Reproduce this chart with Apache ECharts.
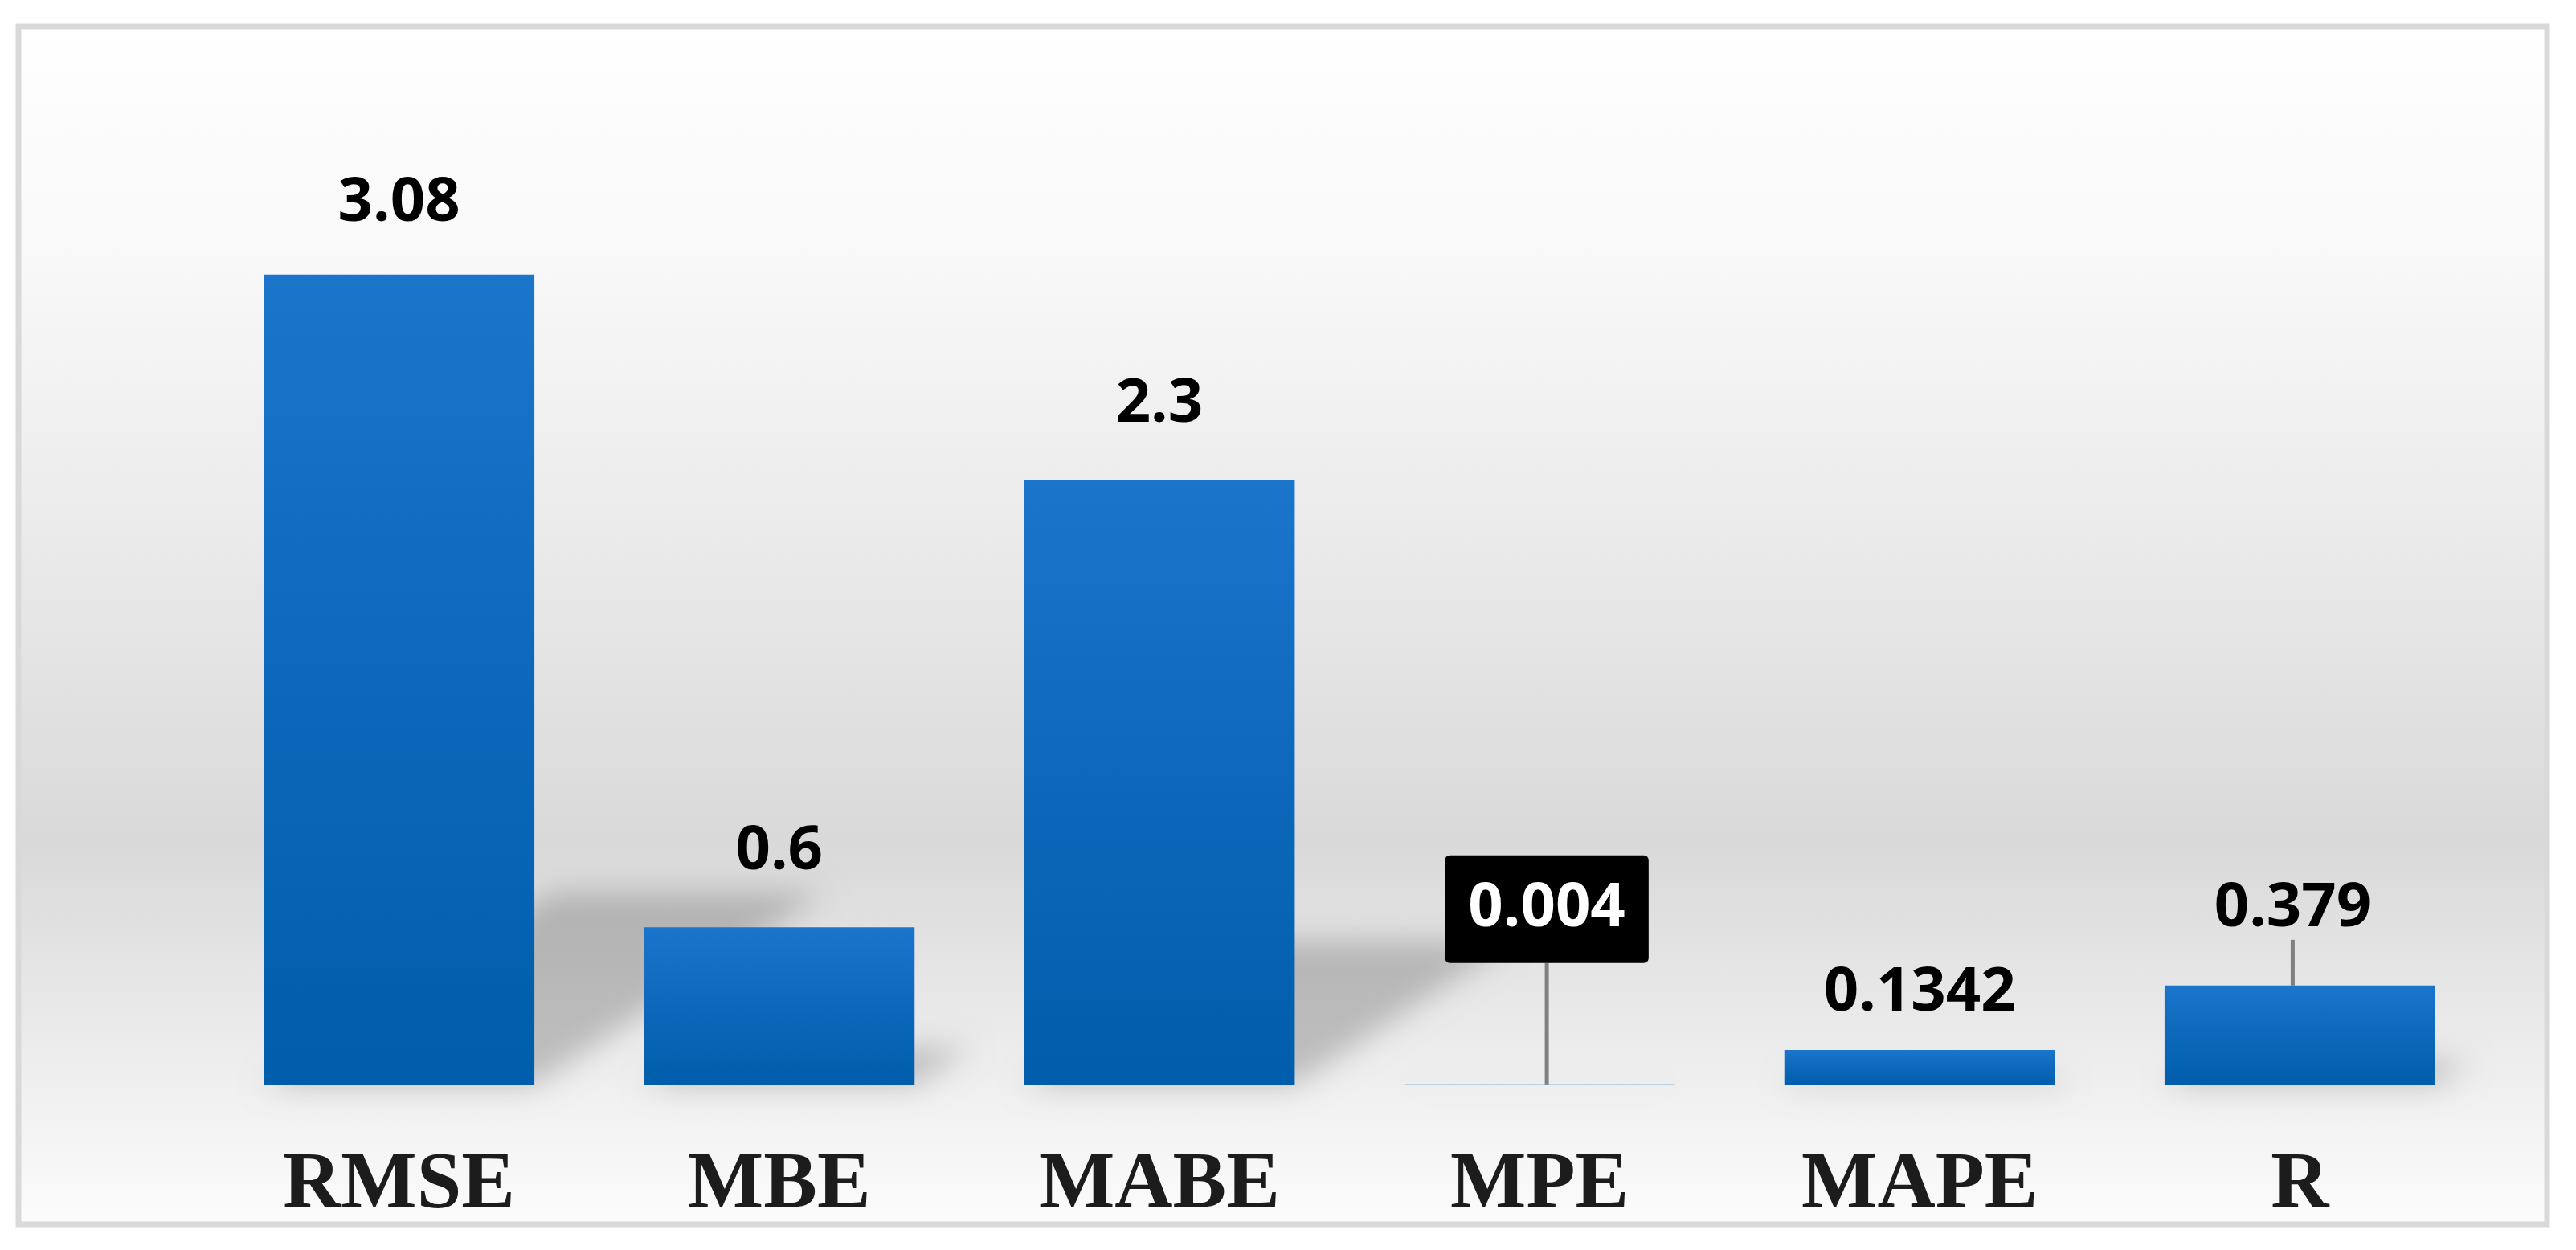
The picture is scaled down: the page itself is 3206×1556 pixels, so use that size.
<!DOCTYPE html>
<html>
<head>
<meta charset="utf-8">
<title>Error metrics</title>
<script src="https://cdn.jsdelivr.net/npm/echarts@6/dist/echarts.min.js"></script>
<style>
  html, body { margin: 0; padding: 0; background: #fff; }
  #main { width: 3206px; height: 1556px; }
</style>
</head>
<body>
<div id="main"></div>
<script>
var categories = ['RMSE', 'MBE', 'MABE', 'MPE', 'MAPE', 'R'];
var values = [3.08, 0.6, 2.3, 0.004, 0.1342, 0.379];
var valueLabels = ['3.08', '0.6', '2.3', '0.004', '0.1342', '0.379'];

// nudges for the hand placed data labels (Excel style)
var labelShift = {
  1: { dy: -6 },
  2: { dy: -6 },
  3: { dx: 9, dy: -101 },
  4: { dy: 17 },
  5: { dx: -9, dy: 44 }
};

var barColor = new echarts.graphic.LinearGradient(0, 0, 0, 1, [
  { offset: 0, color: '#1b75cb' },
  { offset: 0.5, color: '#0d68bb' },
  { offset: 1, color: '#005dab' }
]);

var barData = values.map(function (v, i) {
  var item = { value: v };
  if (i === 3) {
    item.label = {
      backgroundColor: '#000',
      color: '#fff',
      padding: [29, 29],
      borderRadius: 6
    };
    item.labelLine = { show: true };
  }
  if (i === 5) {
    item.label = { padding: [0, 0, 51, 0] };
    item.labelLine = { show: true };
  }
  return item;
});

function renderShadow(params, api) {
  var base = api.coord([api.value(0), 0]);
  var top = api.coord([api.value(0), api.value(1)]);
  var h = base[1] - top[1];
  var hw = 337 / 2;
  var s = h * 0.357, t = h * 0.238;
  var off = 5000;
  return {
    type: 'polygon',
    shape: {
      points: [
        [base[0] - hw - off, base[1]],
        [base[0] + hw - off, base[1]],
        [base[0] + hw + s - off, base[1] - t],
        [base[0] - hw + s - off, base[1] - t]
      ]
    },
    style: {
      fill: '#000',
      shadowColor: 'rgba(0,0,0,0.2)',
      shadowBlur: 36,
      shadowOffsetX: off
    }
  };
}

var option = {
  animation: false,
  graphic: [
    {
      type: 'rect',
      z: -10,
      shape: { x: 23, y: 33, width: 3147, height: 1491 },
      style: {
        fill: new echarts.graphic.LinearGradient(0, 0, 0, 1, [
          { offset: 0, color: '#ffffff' },
          { offset: 0.2, color: '#f8f8f8' },
          { offset: 0.45, color: '#e9e9e9' },
          { offset: 0.68, color: '#d9d9d9' },
          { offset: 0.85, color: '#ececec' },
          { offset: 1, color: '#fcfcfc' }
        ]),
        stroke: '#d9d9d9',
        lineWidth: 7
      }
    }
  ],
  grid: { left: 260, right: 107, top: 204, bottom: 205 },
  xAxis: {
    type: 'category',
    data: categories,
    axisLine: { show: false },
    axisTick: { show: false },
    axisLabel: {
      margin: 75,
      fontFamily: 'Liberation Serif',
      fontWeight: 'bold',
      fontSize: 100,
      color: '#1c1c1c'
    }
  },
  yAxis: {
    type: 'value',
    min: 0,
    max: 3.5,
    show: false,
    splitLine: { show: false }
  },
  series: [
    {
      type: 'custom',
      z: 1,
      silent: true,
      renderItem: renderShadow,
      data: values.map(function (v, i) { return [i, v]; })
    },
    {
      type: 'bar',
      z: 2,
      barWidth: 337,
      data: barData,
      itemStyle: { color: barColor },
      label: {
        show: true,
        position: 'top',
        distance: 50,
        fontFamily: 'Open Sans',
        fontWeight: 'bold',
        fontSize: 76,
        color: '#000',
        formatter: function (p) { return valueLabels[p.dataIndex]; }
      },
      labelLine: {
        show: false,
        lineStyle: { color: '#808080', width: 5 }
      },
      labelLayout: function (p) {
        return labelShift[p.dataIndex] || {};
      }
    }
  ]
};

var myChart = echarts.init(document.getElementById('main'));
myChart.setOption(option, true);
</script>
</body>
</html>
